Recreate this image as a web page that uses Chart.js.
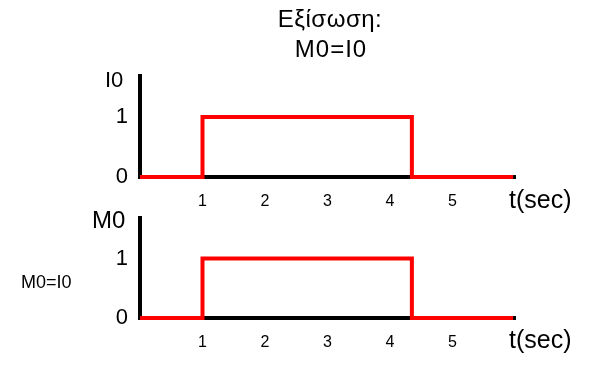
<!DOCTYPE html>
<html>
<head>
<meta charset="utf-8">
<script src="https://cdn.jsdelivr.net/npm/chart.js@4/dist/chart.umd.min.js"></script>
<style>
  body { margin: 0; background: #fff; }
  #wrap { position: relative; width: 592px; height: 370px; overflow: hidden; font-family: "Liberation Sans", Arial, sans-serif; color: #000; }
  .box { position: absolute; left: 0; width: 592px; }
  .lbl { position: absolute; white-space: nowrap; line-height: 1; }
</style>
</head>
<body>
<div id="wrap">
  <div class="box" style="top:0;height:215px"><canvas id="top-chart"></canvas></div>
  <div class="box" style="top:150px;height:220px"><canvas id="bottom-chart"></canvas></div>
  <div class="lbl" style="left:0;width:660px;text-align:center;top:7px;font-size:24px;letter-spacing:0.5px">Εξίσωση:</div>
  <div class="lbl" style="left:0;width:662px;text-align:center;top:37px;font-size:24px;letter-spacing:1px">M0=I0</div>
  <div class="lbl" style="left:105px;top:69px;font-size:22px">I0</div>
  <div class="lbl" style="left:92px;top:208px;font-size:24px">M0</div>
  <div class="lbl" style="left:21px;top:273px;font-size:18px">M0=I0</div>
  <div class="lbl" style="left:509px;top:187px;font-size:25px">t(sec)</div>
  <div class="lbl" style="left:509px;top:327px;font-size:25px">t(sec)</div>
</div>
<script>
// time axis (sec) and signal levels
const times = [0, 1, 1, 4.35, 4.35, 5.97];
const i0Values = [0, 0, 1, 1, 0, 0];
const m0Values = [0, 0, 1, 1, 0, 0]; // M0 = I0
const xTicks = [1, 2, 3, 4, 5];
const yTicks = [0, 1];

function makeChart(id, values, areaTop, areaBottom, boxHeight) {
  const ctx = document.getElementById(id).getContext('2d');
  return new Chart(ctx, {
    type: 'line',
    data: {
      datasets: [{
        data: times.map((t, i) => ({ x: t, y: values[i] })),
        borderColor: '#ff0000',
        borderWidth: 4,
        pointRadius: 0,
        tension: 0,
        borderJoinStyle: 'miter',
        clip: false
      }]
    },
    options: {
      responsive: true,
      maintainAspectRatio: false,
      animation: false,
      layout: { padding: { top: areaTop, right: 77, left: 0, bottom: 0 } },
      plugins: { legend: { display: false }, tooltip: { enabled: false } },
      scales: {
        x: {
          type: 'linear',
          min: 0,
          max: 6,
          afterBuildTicks: s => { s.ticks = xTicks.map(v => ({ value: v })); },
          afterFit: s => { s.height = boxHeight - areaBottom; },
          grid: { display: false, drawTicks: false },
          border: { display: true, color: '#000', width: 4 },
          ticks: { color: '#000', padding: 15, font: { family: 'Liberation Sans', size: 16 }, maxRotation: 0 }
        },
        y: {
          min: 0,
          max: 1.68,
          afterBuildTicks: s => { s.ticks = yTicks.map(v => ({ value: v })); },
          afterFit: s => { s.width = 140; },
          grid: { display: false, drawTicks: false },
          border: { display: true, color: '#000', width: 4 },
          ticks: { color: '#000', padding: 12, font: { family: 'Liberation Sans', size: 22 } }
        }
      }
    }
  });
}

makeChart('top-chart', i0Values, 76, 177, 215);
makeChart('bottom-chart', m0Values, 68, 168, 220);
</script>
</body>
</html>
